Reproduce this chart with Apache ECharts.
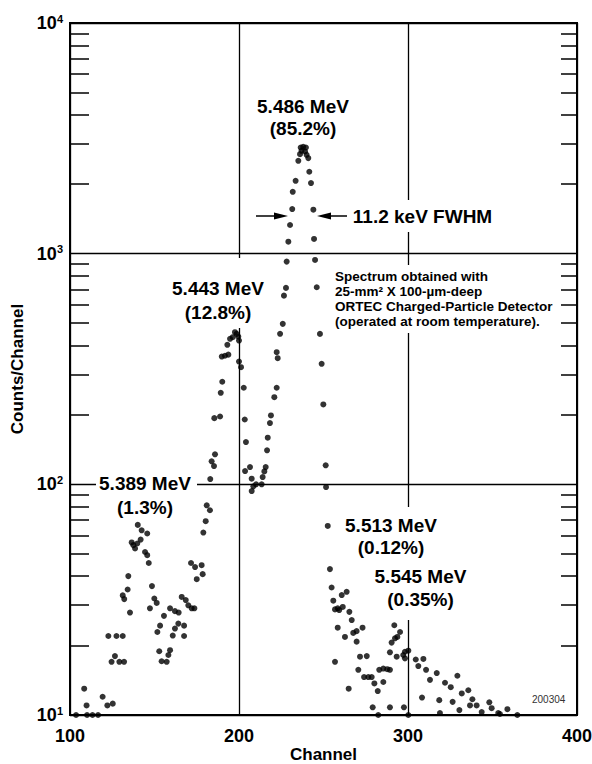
<!DOCTYPE html>
<html><head><meta charset="utf-8">
<script src="https://cdn.jsdelivr.net/npm/echarts@6/dist/echarts.min.js"></script>
<style>html,body{margin:0;padding:0;background:#fff}#c{width:592px;height:764px}</style>
</head><body><div id="c"></div>
<script>
// ---- data ----
const channels = [
103.6,110.1,113.3,116.6,108.4,109.8,119.3,122.1,125.3,
122.7,127.5,131.2,124.6,126.6,129.2,132.0,
134.5,134.1,131.2,132.1,135.5,
140.1,136.5,137.5,138.5,139.8,141.8,142.4,145.7,144.4,145.7,146.6,
148.5,149.9,151.3,147.3,155.6,153.3,151.7,
152.8,154.2,157.2,159.2,158.2,
159.2,162.1,164.3,166.1,160.8,162.1,164.1,167.5,167.5,
168.5,170.0,172.0,173.6,
171.6,174.0,177.9,175.0,178.5,
178.9,180.3,180.9,182.8,
183.0,183.8,185.2,185.8,185.4,188.8,189.2,190.1,189.8,191.7,193.7,193.1,194.7,196.3,197.6,198.6,199.6,200.0,200.0,201.2,202.8,203.4,204.1,203.6,
206.5,207.5,208.5,207.5,210.1,213.4,214.0,215.0,215.8,216.6,217.0,218.3,218.9,220.9,222.3,222.9,222.3,224.3,225.9,
226.6,227.8,228.2,229.2,230.2,231.5,231.8,233.5,235.1,
236.5,238.0,239.6,237.0,239.1,236.1,240.0,241.0,
241.6,242.6,244.0,244.4,245.0,246.0,247.9,248.9,249.9,251.3,251.5,252.5,253.8,254.8,255.8,
256.8,258.4,259.3,261.4,260.8,263.7,265.3,258.4,262.7,256.8,
266.7,267.6,269.6,273.1,269.6,271.6,275.6,264.9,
270.6,274.0,276.5,278.5,280.1,282.1,285.4,283.0,285.4,287.7,289.3,
279.1,282.4,289.3,297.6,
289.3,290.3,292.3,293.7,295.3,291.9,293.3,297.2,298.2,300.2,298.2,300.2,
304.6,309.1,306.1,310.7,313.0,308.3,317.0,318.5,318.9,321.9,325.3,329.2,326.4,330.4,331.8,335.7,338.1,336.7,340.6,343.6,348.1,349.5,353.4,354.4,358.8,364.7
];
const counts = [
10,10,10,10,13,11,12,11,11.2,
22,22,22,17,18,17,17,
40,35,33,31.8,27.8,
66.7,56,54.5,52.7,55.4,57.6,63.2,61.2,50.9,49.3,45.6,
36.2,32,30.6,29,26.9,24.4,22.9,
18.9,17.1,17,19.1,18.2,
29,28.2,27.8,32.5,22.1,23.7,24.9,24.4,22,
31.5,29.9,29,29,
45.6,43.8,44.6,38.8,40.8,
61.8,69.2,81.1,77.2,
105.4,125.8,120,134.9,193.6,196.8,249.3,278.4,358,361,365,402.6,427.5,434.4,456.5,449,437,420,340.6,322,262.2,191,152.5,114.2,
118.8,105.8,98,93.5,100,100,107.5,113.8,118.8,140.4,159.3,184.3,198.9,238.7,262.2,352.3,373.9,449.2,496.3,
657.7,710.6,923.7,1127,1331,1561,1854,2070,2527,
2886,2906,2886,2792,2773,2701,2683,2596,
2265,2024,1551,1158,939,715,449,333,222,120.9,97.3,66,42.9,35.7,31.3,
28.7,29,28.5,29.4,33.1,34.2,28,23.9,21.8,17,
25.8,22.7,23.1,23.9,20.8,17.9,18,13,
15.7,14.6,14.6,14.6,13.7,12.7,13.9,15.7,15.9,15.8,15.7,
10.8,10,10.8,10.8,
18.7,20.6,21.5,21.8,22.9,24.5,17.9,18.2,18.8,19,17.6,10,
17.4,17.5,16.3,15.7,14.2,11.9,15.2,11.6,10.2,13.8,13.2,14.8,11.4,10.5,12.4,12.8,11.7,11,11,10.3,11.35,10.7,10.2,10.1,10.6,10
];
const xTicks = [100, 200, 300, 400];
const yDecades = [10, 100, 1000, 10000];
const yMinorTicks = [20,30,40,50,60,70,80,90,200,300,400,500,600,700,800,900,2000,3000,4000,5000,6000,7000,8000,9000];
const xAxisName = 'Channel';
const yAxisName = 'Counts/Channel';
const peakLabels = ['5.486 MeV\n(85.2%)', '5.443 MeV\n(12.8%)', '5.389 MeV\n(1.3%)', '5.513 MeV\n(0.12%)', '5.545 MeV\n(0.35%)'];
const fwhmLabel = '11.2 keV FWHM';
const noteLines = ['Spectrum obtained with', '25-mm² X 100-µm-deep', 'ORTEC Charged-Particle Detector', '(operated at room temperature).'];
const figId = '200304';

const FF = '"Liberation Sans", Arial, Helvetica, sans-serif';
const chart = echarts.init(document.getElementById('c'), null, {renderer: 'svg'});

const minorAxis = (pos, len) => ({
  type: 'log', logBase: 10, min: yDecades[0], max: yDecades[yDecades.length - 1], position: pos,
  axisLine: {show: false}, axisLabel: {show: false}, splitLine: {show: false},
  axisTick: {show: true, inside: true, length: len, customValues: yMinorTicks, lineStyle: {color: '#000', width: 1.5}}
});

const bold = (size) => 'bold ' + size + 'px ' + FF;
const txt = (text, x, y, size, lh, align) => ({
  type: 'text', z: 50, x: x, y: y,
  style: {text: text, font: bold(size), fill: '#000', align: align || 'center', verticalAlign: 'middle', lineHeight: lh}
});
const mask = (x, y, w, h) => ({type: 'rect', z: 40, shape: {x: x, y: y, width: w, height: h}, style: {fill: '#fff'}});

chart.setOption({
  animation: false,
  backgroundColor: '#fff',
  grid: {left: 70, right: 15, top: 23, bottom: 49, show: true, borderColor: '#000', borderWidth: 2, backgroundColor: 'transparent', containLabel: false, outerBoundsMode: 'none'},
  xAxis: {
    type: 'value', min: xTicks[0], max: xTicks[xTicks.length - 1], interval: xTicks[1] - xTicks[0],
    axisLine: {show: false}, axisTick: {show: false},
    splitLine: {show: true, lineStyle: {color: '#000', width: 1.3}},
    axisLabel: {color: '#000', fontSize: 18, fontWeight: 'bold', fontFamily: FF, margin: 12},
    name: xAxisName, nameLocation: 'middle', nameGap: 31, nameMoveOverlap: false,
    nameTextStyle: {color: '#000', fontSize: 17, fontWeight: 'bold', fontFamily: FF, lineHeight: 17}
  },
  yAxis: [
    {
      type: 'log', logBase: 10, min: yDecades[0], max: yDecades[yDecades.length - 1],
      axisLine: {show: false}, axisTick: {show: false},
      splitLine: {show: true, lineStyle: {color: '#000', width: 1.3}},
      axisLabel: {
        margin: 7,
        formatter: (v) => '{b|10}{s|' + Math.round(Math.log10(v)) + '}',
        rich: {
          b: {fontSize: 18, fontWeight: 'bold', color: '#000', fontFamily: FF, lineHeight: 20},
          s: {fontSize: 11, fontWeight: 'bold', color: '#000', fontFamily: FF, lineHeight: 11, verticalAlign: 'top'}
        }
      },
      name: yAxisName, nameLocation: 'middle', nameGap: 44, nameMoveOverlap: false,
      nameTextStyle: {color: '#000', fontSize: 17, fontWeight: 'bold', fontFamily: FF}
    },
    minorAxis('left', 19),
    minorAxis('right', 16)
  ],
  series: [{
    type: 'scatter', yAxisIndex: 0,
    data: channels.map((c, i) => [c, counts[i]]),
    symbol: 'circle', symbolSize: 6,
    itemStyle: {color: '#000'},
    emphasis: {disabled: true}, silent: true
  }],
  graphic: [
    mask(168, 258, 100, 70),
    mask(96, 470, 101, 48),
    mask(345, 507, 92, 53),
    mask(374, 560, 93, 60),
    mask(332, 265, 222, 68),
    mask(352, 200, 141, 32),
    txt(peakLabels[0], 303, 117, 19, 22),
    txt(peakLabels[1], 218, 300, 19, 24),
    txt(peakLabels[2], 145, 495, 19, 24),
    txt(peakLabels[3], 391, 536, 19, 22),
    txt(peakLabels[4], 420.5, 587.5, 19, 23),
    txt(fwhmLabel, 422.5, 216, 19, 22),
    txt(noteLines.join('\n'), 335, 299, 13.5, 14.7, 'left'),
    {type: 'text', z: 50, x: 532, y: 699, style: {text: figId, font: '10px ' + FF, fill: '#333', align: 'left', verticalAlign: 'middle'}},
    {type: 'line', z: 50, shape: {x1: 256, y1: 216, x2: 276, y2: 216}, style: {stroke: '#000', lineWidth: 1.5}},
    {type: 'polygon', z: 50, shape: {points: [[274, 212.5], [288, 216], [274, 219.5]]}, style: {fill: '#000'}},
    {type: 'line', z: 50, shape: {x1: 347, y1: 216, x2: 329, y2: 216}, style: {stroke: '#000', lineWidth: 1.5}},
    {type: 'polygon', z: 50, shape: {points: [[331, 212.5], [317, 216], [331, 219.5]]}, style: {fill: '#000'}}
  ]
});
</script>
</body></html>
